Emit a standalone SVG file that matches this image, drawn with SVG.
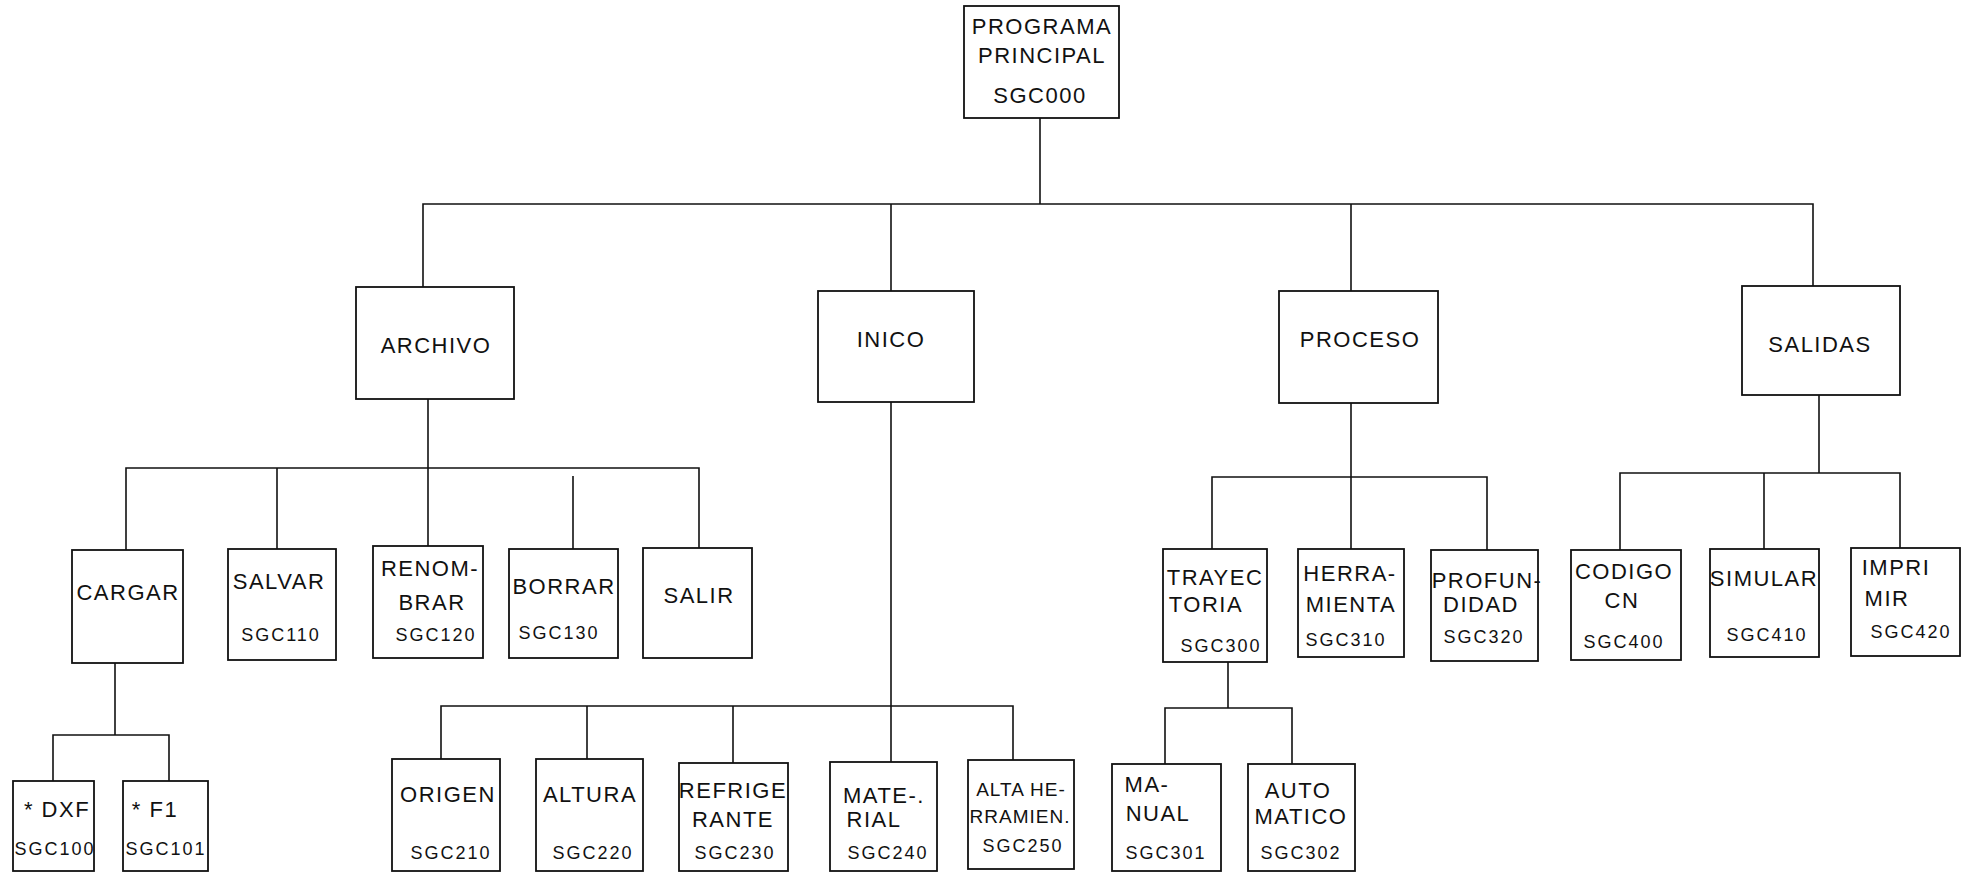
<svg xmlns="http://www.w3.org/2000/svg" width="1974" height="874" viewBox="0 0 1974 874">
<style>
.bg{fill:#ffffff}
.box{fill:#ffffff;stroke:#111;stroke-width:1.8}
.con{fill:none;stroke:#111;stroke-width:1.6}
.lb{font-family:"Liberation Sans",Arial,sans-serif;font-size:22px;letter-spacing:1.5px;fill:#111;text-anchor:middle;dominant-baseline:middle}
.cd{font-family:"Liberation Sans",Arial,sans-serif;font-size:18px;letter-spacing:2px;fill:#111;text-anchor:middle;dominant-baseline:middle}
</style>
<rect class="bg" x="0" y="0" width="1974" height="874"/>
<g id="connectors">
<path class="con" d="M1040,118 V204"/>
<path class="con" d="M423,287 V204 H1813 V286"/>
<path class="con" d="M891,204 V291"/>
<path class="con" d="M1351,204 V291"/>
<path class="con" d="M428,399 V468"/>
<path class="con" d="M126,550 V468 H699 V548"/>
<path class="con" d="M277,468 V549"/>
<path class="con" d="M428,468 V546"/>
<path class="con" d="M573,476 V549"/>
<path class="con" d="M115,663 V735"/>
<path class="con" d="M53,781 V735 H169 V781"/>
<path class="con" d="M891,402 V762"/>
<path class="con" d="M441,759 V706 H1013 V760"/>
<path class="con" d="M587,706 V759"/>
<path class="con" d="M733,706 V763"/>
<path class="con" d="M1351,403 V549"/>
<path class="con" d="M1212,549 V477 H1487 V550"/>
<path class="con" d="M1228,662 V708"/>
<path class="con" d="M1165,764 V708 H1292 V764"/>
<path class="con" d="M1819,395 V473"/>
<path class="con" d="M1620,550 V473 H1900 V548"/>
<path class="con" d="M1764,473 V549"/>
</g>
<g id="sgc000"><rect class="box" x="964" y="6" width="155" height="112"/><text class="lb" x="1042" y="28">PROGRAMA</text><text class="lb" x="1042" y="57">PRINCIPAL</text><text class="lb" x="1040" y="97">SGC000</text></g>
<g id="archivo"><rect class="box" x="356" y="287" width="158" height="112"/><text class="lb" x="436" y="347">ARCHIVO</text></g>
<g id="inico"><rect class="box" x="818" y="291" width="156" height="111"/><text class="lb" x="891" y="341">INICO</text></g>
<g id="proceso"><rect class="box" x="1279" y="291" width="159" height="112"/><text class="lb" x="1360" y="341">PROCESO</text></g>
<g id="salidas"><rect class="box" x="1742" y="286" width="158" height="109"/><text class="lb" x="1820" y="346">SALIDAS</text></g>
<g id="cargar"><rect class="box" x="72" y="550" width="111" height="113"/><text class="lb" x="128" y="594">CARGAR</text></g>
<g id="sgc110"><rect class="box" x="228" y="549" width="108" height="111"/><text class="lb" x="279" y="583">SALVAR</text><text class="cd" x="281" y="636">SGC110</text></g>
<g id="sgc120"><rect class="box" x="373" y="546" width="110" height="112"/><text class="lb" x="430" y="570">RENOM-</text><text class="lb" x="432" y="604">BRAR</text><text class="cd" x="436" y="636">SGC120</text></g>
<g id="sgc130"><rect class="box" x="509" y="549" width="109" height="109"/><text class="lb" x="564" y="588">BORRAR</text><text class="cd" x="559" y="634">SGC130</text></g>
<g id="salir"><rect class="box" x="643" y="548" width="109" height="110"/><text class="lb" x="699" y="597">SALIR</text></g>
<g id="sgc100"><rect class="box" x="13" y="781" width="81" height="90"/><text class="lb" x="57" y="811">* DXF</text><text class="cd" x="55" y="850">SGC100</text></g>
<g id="sgc101"><rect class="box" x="123" y="781" width="85" height="90"/><text class="lb" x="155" y="811">* F1</text><text class="cd" x="166" y="850">SGC101</text></g>
<g id="sgc210"><rect class="box" x="392" y="759" width="108" height="112"/><text class="lb" x="448" y="796">ORIGEN</text><text class="cd" x="451" y="854">SGC210</text></g>
<g id="sgc220"><rect class="box" x="536" y="759" width="107" height="112"/><text class="lb" x="590" y="796">ALTURA</text><text class="cd" x="593" y="854">SGC220</text></g>
<g id="sgc230"><rect class="box" x="679" y="763" width="109" height="108"/><text class="lb" x="733" y="792">REFRIGE</text><text class="lb" x="733" y="821">RANTE</text><text class="cd" x="735" y="854">SGC230</text></g>
<g id="sgc240"><rect class="box" x="830" y="762" width="107" height="109"/><text class="lb" x="884" y="797">MATE-.</text><text class="lb" x="874" y="821">RIAL</text><text class="cd" x="888" y="854">SGC240</text></g>
<g id="sgc250"><rect class="box" x="968" y="760" width="106" height="109"/><text class="lb" x="1021" y="791" style="font-size:19px;letter-spacing:1px">ALTA HE-</text><text class="lb" x="1020" y="818" style="font-size:19px;letter-spacing:1px">RRAMIEN.</text><text class="cd" x="1023" y="847">SGC250</text></g>
<g id="sgc300"><rect class="box" x="1163" y="549" width="104" height="113"/><text class="lb" x="1215" y="579">TRAYEC</text><text class="lb" x="1206" y="606">TORIA</text><text class="cd" x="1221" y="647">SGC300</text></g>
<g id="sgc310"><rect class="box" x="1298" y="549" width="106" height="108"/><text class="lb" x="1350" y="575">HERRA-</text><text class="lb" x="1351" y="606">MIENTA</text><text class="cd" x="1346" y="641">SGC310</text></g>
<g id="sgc320"><rect class="box" x="1431" y="550" width="107" height="111"/><text class="lb" x="1487" y="582">PROFUN-</text><text class="lb" x="1481" y="606">DIDAD</text><text class="cd" x="1484" y="638">SGC320</text></g>
<g id="sgc301"><rect class="box" x="1112" y="764" width="109" height="107"/><text class="lb" x="1147" y="786">MA-</text><text class="lb" x="1158" y="815">NUAL</text><text class="cd" x="1166" y="854">SGC301</text></g>
<g id="sgc302"><rect class="box" x="1248" y="764" width="107" height="107"/><text class="lb" x="1298" y="792">AUTO</text><text class="lb" x="1301" y="818">MATICO</text><text class="cd" x="1301" y="854">SGC302</text></g>
<g id="sgc400"><rect class="box" x="1571" y="550" width="110" height="110"/><text class="lb" x="1624" y="573">CODIGO</text><text class="lb" x="1622" y="602">CN</text><text class="cd" x="1624" y="643">SGC400</text></g>
<g id="sgc410"><rect class="box" x="1710" y="549" width="109" height="108"/><text class="lb" x="1764" y="580">SIMULAR</text><text class="cd" x="1767" y="636">SGC410</text></g>
<g id="sgc420"><rect class="box" x="1851" y="548" width="109" height="108"/><text class="lb" x="1896" y="569">IMPRI</text><text class="lb" x="1887" y="600">MIR</text><text class="cd" x="1911" y="633">SGC420</text></g>
</svg>
